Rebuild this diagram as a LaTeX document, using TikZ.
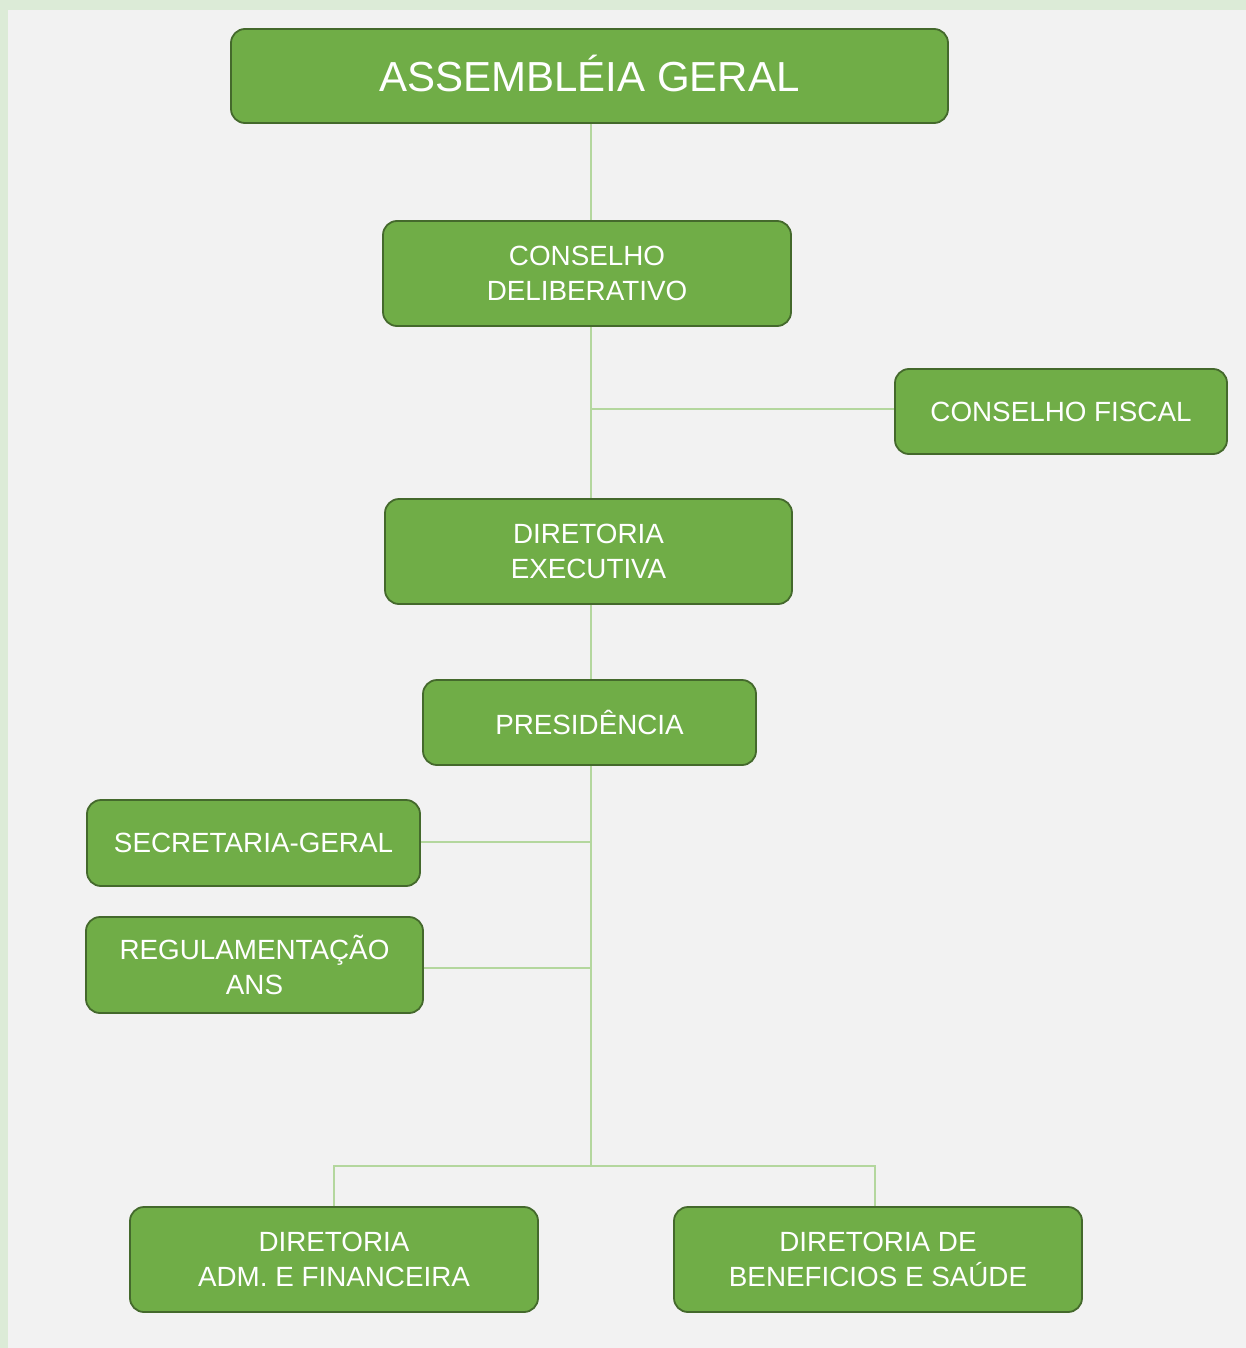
\documentclass[tikz,border=0pt]{standalone}
\usepackage{fontspec}
\setmainfont{Liberation Sans}
\definecolor{outerbg}{HTML}{DCEBD7}
\definecolor{innerbg}{HTML}{F2F2F2}
\definecolor{boxfill}{HTML}{70AD47}
\definecolor{boxline}{HTML}{44692C}
\definecolor{connline}{HTML}{B4D79E}
\begin{document}
\begin{tikzpicture}[x=1pt,y=-1pt,
  orgbox/.style={draw=boxline, line width=1.8pt, fill=boxfill, rounded corners=14pt,
    text=white, align=center, inner sep=0pt, font=\fontsize{27.8}{35}\selectfont},
  conn/.style={draw=connline, line width=1.6pt}]
\fill[outerbg] (0,0) rectangle (1246,1348);
\fill[innerbg] (8,10) rectangle (1246,1348);
\useasboundingbox (0,0) rectangle (1246,1348);
\node[orgbox, minimum width=717pt, minimum height=94pt] (ag) at (589.5,76) {};
\node[text=white, font=\fontsize{42}{48}\selectfont, inner sep=0pt] (agt) at (589.5,73) {ASSEMBLÉIA GERAL};
\node[orgbox, minimum width=408pt, minimum height=105pt] (cd) at (587,273.5) {CONSELHO\\DELIBERATIVO};
\node[orgbox, minimum width=332pt, minimum height=85pt] (cf) at (1061,411.5) {CONSELHO FISCAL};
\node[orgbox, minimum width=407pt, minimum height=105pt] (de) at (588.5,551.5) {DIRETORIA\\EXECUTIVA};
\node[orgbox, minimum width=333pt, minimum height=85pt] (pr) at (589.5,722.5) {PRESIDÊNCIA};
\node[orgbox, minimum width=333pt, minimum height=86pt] (sg) at (253.5,843) {SECRETARIA-GERAL};
\node[orgbox, minimum width=337pt, minimum height=96pt] (ra) at (254.5,965) {REGULAMENTAÇÃO\\ANS};
\node[orgbox, minimum width=408pt, minimum height=105pt] (daf) at (334,1259.5) {DIRETORIA\\ADM. E FINANCEIRA};
\node[orgbox, minimum width=408pt, minimum height=105pt] (dbs) at (878,1259.5) {DIRETORIA DE\\BENEFICIOS E SAÚDE};
\coordinate (j1) at (591,409);
\coordinate (j2) at (591,842);
\coordinate (j3) at (591,968);
\coordinate (j4) at (591,1166);
\draw[conn] (591,0 |- ag.south) -- (591,0 |- cd.north);
\draw[conn] (591,0 |- cd.south) -- (591,0 |- de.north);
\draw[conn] (j1) -- (j1 -| cf.west);
\draw[conn] (591,0 |- de.south) -- (591,0 |- pr.north);
\draw[conn] (591,0 |- pr.south) -- (j4);
\draw[conn] (j2) -- (j2 -| sg.east);
\draw[conn] (j3) -- (j3 -| ra.east);
\draw[conn] (daf.north) |- (j4) -| (875,0 |- dbs.north);
\end{tikzpicture}
\end{document}
